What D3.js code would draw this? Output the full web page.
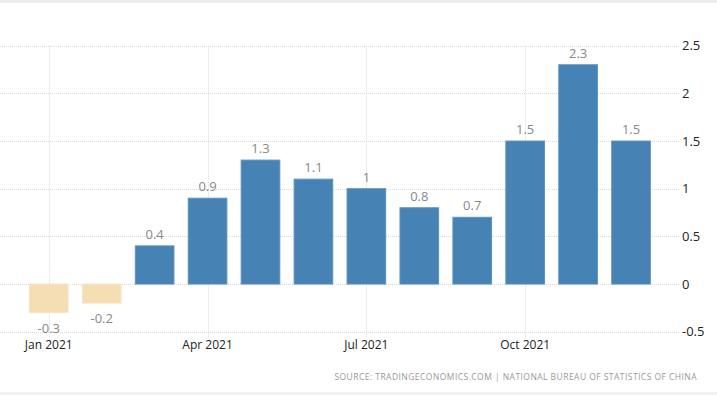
<!DOCTYPE html>
<html><head><meta charset="utf-8">
<script src="https://cdn.jsdelivr.net/npm/d3@7"></script>
<style>
html,body{margin:0;padding:0;background:#fff;}
svg{display:block;font-family:"Open Sans","DejaVu Sans",sans-serif;}
</style></head><body>
<svg id="c" width="717" height="395"></svg>
<script>
const months = ["Jan 2021","Feb 2021","Mar 2021","Apr 2021","May 2021","Jun 2021","Jul 2021","Aug 2021","Sep 2021","Oct 2021","Nov 2021","Dec 2021"];
const values = [-0.3,-0.2,0.4,0.9,1.3,1.1,1,0.8,0.7,1.5,2.3,1.5];
const xTickLabels = ["Jan 2021","Apr 2021","Jul 2021","Oct 2021"];
const yTicks = [-0.5,0,0.5,1,1.5,2,2.5];
const source = "SOURCE: TRADINGECONOMICS.COM | NATIONAL BUREAU OF STATISTICS OF CHINA";

const svg = d3.select("#c");
const x = d3.scaleBand().domain(months).range([22.3,657.5]).paddingInner(0.27).paddingOuter(0.135);
const y = d3.scaleLinear().domain([-0.5,2.5]).range([331.7,45.7]);

// frame lines
svg.append("rect").attr("x",0).attr("y",0).attr("width",717).attr("height",3).attr("fill","#ececec");
svg.append("rect").attr("x",0).attr("y",392).attr("width",717).attr("height",3).attr("fill","#f2f2f2");

// horizontal grid
svg.append("g").selectAll("line").data(yTicks).join("line")
  .attr("x1",0).attr("x2",679)
  .attr("y1",d=>Math.round(y(d))+0.5).attr("y2",d=>Math.round(y(d))+0.5)
  .attr("stroke","#d9d9d9").attr("stroke-dasharray","1,1");

// vertical grid
svg.append("g").selectAll("line").data(xTickLabels).join("line")
  .attr("x1",d=>Math.round(x(d)+x.bandwidth()/2)+0.5).attr("x2",d=>Math.round(x(d)+x.bandwidth()/2)+0.5)
  .attr("y1",45.7).attr("y2",337)
  .attr("stroke","#d9d9d9").attr("stroke-dasharray","1,1");

// bars
svg.append("g").selectAll("rect").data(values).join("rect")
  .attr("x",(d,i)=>x(months[i]))
  .attr("width",x.bandwidth())
  .attr("y",d=>y(Math.max(0,d)))
  .attr("height",d=>Math.abs(y(d)-y(0)))
  .attr("fill",d=>d<0?"#F5DEB3":"#4682B4")
  .attr("stroke",d=>d<0?"#f7e4c2":"#5b92c0").attr("stroke-width",1);

// value labels
svg.append("g").selectAll("text").data(values).join("text")
  .attr("x",(d,i)=>x(months[i])+x.bandwidth()/2)
  .attr("y",d=>d<0?y(d)+20:y(d)-7)
  .attr("text-anchor","middle")
  .attr("font-size",13).attr("fill","#888")
  .text(d=>d);

// right axis
const yAxis = d3.axisRight(y).tickValues(yTicks).tickSize(0).tickPadding(0).tickFormat(d=>d);
const ya = svg.append("g").attr("transform","translate(682,0)").call(yAxis);
ya.select(".domain").remove();
ya.selectAll("text").attr("font-size",13).attr("fill","#222").attr("font-family","'Open Sans','DejaVu Sans',sans-serif");

// bottom axis
const xAxis = d3.axisBottom(x).tickValues(xTickLabels).tickSize(0).tickPadding(0);
const xa = svg.append("g").attr("transform","translate(0,338)").call(xAxis);
xa.select(".domain").remove();
xa.selectAll("text").attr("font-size",12).attr("fill","#222").attr("dy","0.95em").attr("font-family","'Open Sans','DejaVu Sans',sans-serif");

// source
svg.append("text").attr("x",697).attr("y",380).attr("text-anchor","end")
  .attr("font-size",8.5).attr("fill","#999").attr("letter-spacing","0.45")
  .text(source);
</script>
</body></html>
